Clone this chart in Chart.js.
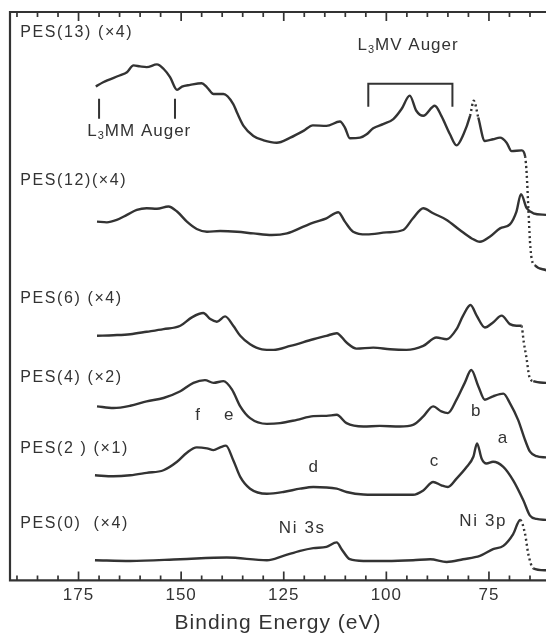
<!DOCTYPE html>
<html>
<head>
<meta charset="utf-8">
<script src="https://cdn.jsdelivr.net/npm/chart.js@4.4.0/dist/chart.umd.min.js"></script>
<style>
  html, body { margin: 0; padding: 0; background: #fff; }
</style>
</head>
<body>
<canvas id="pes" width="546" height="637"></canvas>
<script>
// binding energy (eV) and stacked intensity (arb. units, each spectrum offset)
var e13 = [170.8, 169.0, 165.0, 163.2, 161.6, 160.0, 158.4, 155.9, 154.3, 152.7, 151.0, 149.8, 147.8, 145.0, 143.7, 142.1, 139.7, 137.3, 136.4, 134.8, 132.4, 129.9, 126.7, 123.4, 120.2, 117.9, 114.6, 111.3, 110.1, 108.9, 106.4, 104.8, 103.2, 100.8, 98.3, 96.3, 94.3, 92.7, 91.0, 88.2, 86.6, 84.5, 82.9, 81.2, 79.6, 78.7, 77.6, 76.0, 74.0, 72.3, 70.7, 69.5, 67.0, 66.2, 65.8, 65.4, 65.0, 64.6, 63.8, 61.0];
var i13 = [490, 494.3, 501, 504.3, 511, 510, 509.3, 512, 507.7, 499.3, 486.7, 490, 491.7, 493.3, 489.3, 482.7, 482.7, 472.7, 464.3, 451, 441, 436.7, 434.3, 439.3, 446, 451.5, 451, 455.3, 449.3, 438.7, 439.3, 442.7, 448.7, 452.7, 457.7, 467.7, 481, 466, 461, 471, 461, 442.7, 431.7, 442.7, 461, 476, 459.3, 436, 437.7, 439.3, 434.3, 426, 426.7, 421, 403, 369.3, 336, 319.3, 312.7, 307.7];

var e12 = [170.5, 168.1, 165.7, 163.2, 160.8, 158.4, 155.9, 153.1, 151.0, 148.6, 146.2, 143.7, 140.5, 136.4, 132.4, 127.9, 124.2, 120.2, 117.8, 114.6, 111.7, 110.1, 108.1, 104.8, 100.0, 95.9, 93.5, 91.0, 88.6, 85.3, 82.1, 79.2, 77.2, 74.8, 72.3, 69.9, 68.3, 67.2, 65.8, 64.2, 61.0];
var i12 = [356, 355.3, 357.7, 362.7, 367.7, 369.3, 368.7, 371, 366, 356, 348.7, 346, 346.7, 346, 344.3, 342.7, 344.3, 351, 355, 359.3, 365.3, 356, 346, 343.3, 345.3, 347.7, 359.3, 369.3, 364.3, 357.7, 347.7, 339.3, 336, 341, 349.3, 353.3, 366, 383.3, 369.3, 364.3, 362.7];

var e6 = [170.5, 166.5, 162.4, 158.4, 154.3, 150.2, 147.4, 144.6, 142.9, 141.3, 139.3, 137.3, 135.6, 133.2, 130.3, 127.5, 123.4, 117.8, 114.6, 112.1, 109.7, 107.3, 103.2, 99.1, 95.1, 91.0, 87.8, 85.3, 82.9, 81.3, 79.5, 78.0, 76.0, 74.0, 71.9, 69.9, 68.3, 67.1, 66.5, 65.8, 65.2, 64.2, 61.0];
var i6 = [242.7, 243.3, 244.3, 246.7, 249.3, 252.7, 261, 265.3, 259.3, 256.7, 262, 252.7, 242.7, 234.3, 229.3, 228.7, 232.7, 239.3, 242.7, 245.3, 236, 230, 231, 229.3, 228.7, 232.7, 241, 239.3, 249.3, 262.7, 273.3, 262.7, 251, 256, 262.7, 254.3, 252.7, 252.7, 236, 219.3, 202.7, 197.7, 196];

var e4 = [170.5, 166.5, 162.4, 158.4, 154.3, 150.2, 147.0, 144.2, 142.1, 139.7, 137.6, 135.6, 133.2, 129.1, 125.9, 121.8, 117.8, 114.6, 112.1, 109.7, 105.6, 101.6, 96.7, 93.5, 91.0, 88.6, 86.6, 85.0, 82.9, 80.9, 79.3, 77.6, 76.0, 74.0, 71.5, 69.9, 67.9, 66.2, 65.0, 63.4, 61.0];
var i4 = [172.7, 171, 173.3, 177.7, 181, 187.7, 196, 198.7, 196, 197.7, 189.3, 172.7, 161, 155.3, 156, 159.3, 163, 163.3, 164.3, 156, 152.7, 153.3, 152.7, 154.3, 162.7, 172.7, 167.7, 166, 179.3, 196, 208.7, 192.7, 179.3, 182.7, 185.3, 176, 159.3, 139.3, 127.7, 123.3, 122];

var e2 = [171.0, 166.5, 162.4, 158.4, 154.3, 151.0, 148.6, 146.2, 143.7, 142.1, 140.5, 139.1, 137.3, 135.6, 133.2, 129.1, 125.1, 121.0, 117.8, 112.1, 109.7, 105.6, 100.0, 93.5, 91.0, 88.6, 86.6, 85.0, 82.9, 80.4, 78.8, 77.9, 76.8, 75.6, 74.0, 71.5, 69.1, 66.6, 65.0, 63.4, 61.0];
var i2 = [104.3, 103.3, 104.3, 106.7, 109.3, 117.7, 126.7, 132, 131, 129.3, 132, 133.7, 119.3, 102.7, 91, 86, 87.7, 91, 92.7, 91, 87.7, 85.3, 85, 85, 89.3, 97.7, 94.3, 92.7, 101, 112.7, 122.7, 136, 121, 116, 117.7, 112.7, 99.3, 79.3, 64.3, 61, 60];

var e0 = [171.0, 162.4, 150.2, 138.9, 129.1, 125.1, 121.0, 117.8, 114.6, 112.1, 110.9, 108.9, 105.6, 100.0, 93.5, 89.3, 85.3, 81.3, 77.2, 74.0, 71.5, 69.1, 67.4, 66.2, 65.4, 64.2, 61.0];
var i0 = [20, 19.3, 21, 22.7, 20, 24.3, 29.3, 32, 33.3, 37.7, 31, 21, 19.3, 19.3, 20, 21, 18.3, 21, 24.3, 31, 34.3, 46, 60, 46, 26, 12, 10];

var xTicks = [75, 100, 125, 150, 175];

var ink = '#333333';
var sans = '"Liberation Sans", Arial, Helvetica, sans-serif';

// energy windows where the steep parts of a trace are drawn dotted
function dottedIn(ranges) {
  return function (c) {
    var a = c.p0.parsed.x, b = c.p1.parsed.x;
    for (var k = 0; k < ranges.length; k++) {
      if (Math.min(a, b) >= ranges[k][0] && Math.max(a, b) <= ranges[k][1]) return [2, 3];
    }
    return undefined;
  };
}

function spectrum(label, en, inten, dotted) {
  return {
    label: label,
    data: en.map(function (e, k) { return { x: e, y: inten[k] }; }),
    borderColor: ink,
    borderWidth: 2.4,
    pointRadius: 0,
    fill: false,
    cubicInterpolationMode: 'monotone',
    segment: { borderDash: dottedIn(dotted) }
  };
}

var notes = [
  { t: 'PES(13) (×4)', e: 189.2, i: 544, size: 16, align: 'left' },
  { t: 'PES(12)(×4)', e: 189.2, i: 397, size: 16, align: 'left' },
  { t: 'PES(6) (×4)', e: 189.2, i: 280, size: 16, align: 'left' },
  { t: 'PES(4) (×2)', e: 189.2, i: 201, size: 16, align: 'left' },
  { t: 'PES(2 ) (×1)', e: 189.2, i: 131, size: 16, align: 'left' },
  { t: 'PES(0)  (×4)', e: 189.2, i: 56, size: 16, align: 'left' },
  { t: 'f', e: 145.8, i: 164, size: 17 },
  { t: 'e', e: 138.2, i: 164, size: 17 },
  { t: 'b', e: 78.0, i: 168, size: 17 },
  { t: 'a', e: 71.5, i: 141, size: 17 },
  { t: 'c', e: 88.2, i: 118, size: 17 },
  { t: 'd', e: 117.6, i: 112, size: 17 },
  { t: 'Ni 3s', e: 120.5, i: 52, size: 17 },
  { t: 'Ni 3p', e: 76.4, i: 59, size: 17 }
];

// text with a lowered "3" after the L, as in L3MM / L3MV
function subText(ctx, pre, sub, post, cx, cy, size) {
  ctx.font = size + 'px ' + sans;
  var w1 = ctx.measureText(pre).width, w3 = ctx.measureText(post).width;
  ctx.font = Math.round(size * 0.65) + 'px ' + sans;
  var w2 = ctx.measureText(sub).width;
  var x = cx - (w1 + w2 + w3) / 2;
  ctx.textAlign = 'left';
  ctx.font = size + 'px ' + sans;
  ctx.fillText(pre, x, cy);
  ctx.font = Math.round(size * 0.65) + 'px ' + sans;
  ctx.fillText(sub, x + w1, cy + size * 0.3);
  ctx.font = size + 'px ' + sans;
  ctx.fillText(post, x + w1 + w2, cy);
}

var framePlugin = {
  id: 'frame',
  beforeDraw: function (chart) {
    chart.ctx.letterSpacing = '1px';
  },
  beforeDatasetsDraw: function (chart) {
    var ctx = chart.ctx, a = chart.chartArea, xs = chart.scales.x;
    ctx.save();
    ctx.strokeStyle = ink;
    ctx.lineWidth = 2.2;
    ctx.beginPath();
    ctx.moveTo(a.right + 2, a.top);
    ctx.lineTo(a.left, a.top);
    ctx.lineTo(a.left, a.bottom);
    ctx.lineTo(a.right + 2, a.bottom);
    ctx.stroke();
    ctx.lineWidth = 1.7;
    ctx.beginPath();
    for (var v = 65; v <= 190; v += 5) {
      var px = xs.getPixelForValue(v);
      var len = v % 25 === 0 ? 9 : 5;
      ctx.moveTo(px, a.bottom);
      ctx.lineTo(px, a.bottom - len);
      ctx.moveTo(px, a.top);
      ctx.lineTo(px, a.top + len);
    }
    ctx.stroke();
    ctx.restore();
  },
  afterDatasetsDraw: function (chart) {
    var ctx = chart.ctx, xs = chart.scales.x, ys = chart.scales.y;
    ctx.save();
    ctx.fillStyle = ink;
    ctx.strokeStyle = ink;
    ctx.textBaseline = 'middle';
    ctx.letterSpacing = '1.6px';
    notes.forEach(function (n) {
      ctx.font = n.size + 'px ' + sans;
      ctx.textAlign = n.align || 'center';
      ctx.fillText(n.t, xs.getPixelForValue(n.e), ys.getPixelForValue(n.i));
    });

    // Auger markers
    ctx.lineWidth = 2;
    ctx.beginPath();
    [170, 151.5].forEach(function (e) {
      var px = xs.getPixelForValue(e);
      ctx.moveTo(px, ys.getPixelForValue(478));
      ctx.lineTo(px, ys.getPixelForValue(458));
    });
    var b0 = xs.getPixelForValue(104.4), b1 = xs.getPixelForValue(83.9);
    ctx.moveTo(b0, ys.getPixelForValue(470));
    ctx.lineTo(b0, ys.getPixelForValue(492.7));
    ctx.lineTo(b1, ys.getPixelForValue(492.7));
    ctx.lineTo(b1, ys.getPixelForValue(470));
    ctx.stroke();

    ctx.letterSpacing = '1px';
    subText(ctx, 'L', '3', 'MM Auger', xs.getPixelForValue(160.2), ys.getPixelForValue(446), 17);
    subText(ctx, 'L', '3', 'MV Auger', xs.getPixelForValue(94.7), ys.getPixelForValue(531), 17);
    ctx.restore();
  },
  afterDraw: function (chart) {
    chart.ctx.letterSpacing = '0px';
  }
};

new Chart(document.getElementById('pes'), {
  type: 'line',
  data: {
    datasets: [
      spectrum('PES(13)', e13, i13, [[63, 66.3], [77, 80.5]]),
      spectrum('PES(12)', e12, i12, []),
      spectrum('PES(6)', e6, i6, [[63, 67.2]]),
      spectrum('PES(4)', e4, i4, []),
      spectrum('PES(2)', e2, i2, []),
      spectrum('PES(0)', e0, i0, [[63.5, 67.5]])
    ]
  },
  options: {
    responsive: false,
    devicePixelRatio: 1,
    animation: false,
    layout: { padding: { left: 10, right: 0, top: 12, bottom: 1 } },
    plugins: { legend: { display: false }, tooltip: { enabled: false } },
    scales: {
      x: {
        type: 'linear',
        reverse: true,
        min: 61.1,
        max: 191.7,
        grid: { display: false, drawTicks: false },
        border: { display: false },
        afterBuildTicks: function (scale) {
          scale.ticks = xTicks.map(function (v) { return { value: v }; });
        },
        ticks: { padding: 5, color: ink, font: { family: sans, size: 17 } },
        title: {
          display: true,
          text: 'Binding Energy (eV)',
          color: ink,
          font: { family: sans, size: 21 },
          padding: { top: 0, bottom: 0 }
        }
      },
      y: { display: false, min: 0, max: 564 }
    }
  },
  plugins: [framePlugin]
});
</script>
</body>
</html>
